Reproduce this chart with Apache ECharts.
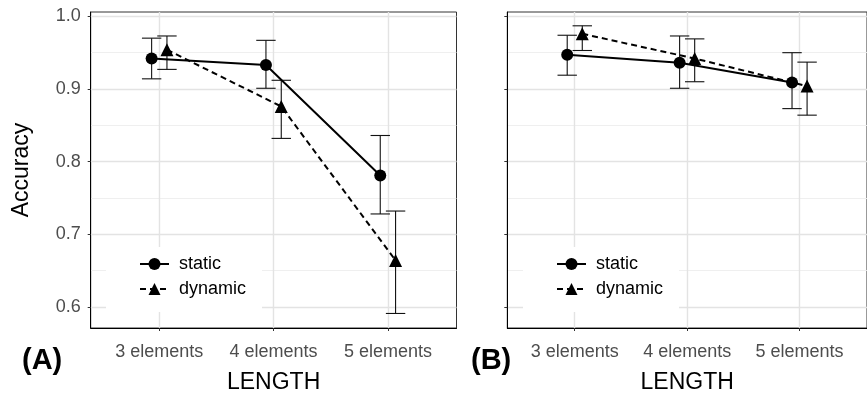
<!DOCTYPE html>
<html lang="en">
<head>
<meta charset="UTF-8">
<title>Accuracy by LENGTH</title>
<script src="https://cdn.jsdelivr.net/npm/echarts@6/dist/echarts.min.js"></script>
<style>
  html, body { margin: 0; padding: 0; background: #fff; }
  #chart { width: 867px; height: 399px; }
</style>
</head>
<body>
<div id="chart"></div>
<script>
// categories on the x axis (placed at 1, 2, 3)
var categories = ['3 elements', '4 elements', '5 elements'];
var yMajorTicks = [0.6, 0.7, 0.8, 0.9, 1.0];
var yMinorTicks = [0.65, 0.75, 0.85, 0.95];

// panel A
var staticMeanA  = [0.942, 0.933, 0.781];
var staticLowA   = [0.914, 0.901, 0.728];
var staticHighA  = [0.970, 0.967, 0.836];
var dynamicMeanA = [0.954, 0.876, 0.664];
var dynamicLowA  = [0.927, 0.832, 0.591];
var dynamicHighA = [0.973, 0.912, 0.732];

// panel B
var staticMeanB  = [0.947, 0.936, 0.909];
var staticLowB   = [0.919, 0.901, 0.873];
var staticHighB  = [0.974, 0.973, 0.950];
var dynamicMeanB = [0.976, 0.942, 0.904];
var dynamicLowB  = [0.953, 0.910, 0.864];
var dynamicHighB = [0.987, 0.969, 0.937];

var DODGE = 0.067;
var FONT = '"Liberation Sans", Arial, Helvetica, sans-serif';

function points(mean, shift) {
    return mean.map(function (v, i) { return [i + 1 + shift, v]; });
}
function bars(low, high, shift) {
    return low.map(function (v, i) { return [i + 1 + shift, v, high[i]]; });
}

// error bar with caps
function errorBar(params, api) {
    var x = api.value(0);
    var lo = api.coord([x, api.value(1)]);
    var hi = api.coord([x, api.value(2)]);
    var half = 9.7;
    var st = { stroke: '#111', lineWidth: 1.1 };
    return {
        type: 'group',
        children: [
            { type: 'line', shape: { x1: lo[0], y1: lo[1], x2: hi[0], y2: hi[1] }, style: st },
            { type: 'line', shape: { x1: lo[0] - half, y1: lo[1], x2: lo[0] + half, y2: lo[1] }, style: st },
            { type: 'line', shape: { x1: hi[0] - half, y1: hi[1], x2: hi[0] + half, y2: hi[1] }, style: st }
        ]
    };
}

function xAxisFor(gridIndex) {
    return {
        type: 'value', gridIndex: gridIndex, min: 0.4, max: 3.6,
        name: 'LENGTH', nameLocation: 'middle', nameGap: 43,
        nameTextStyle: { fontFamily: FONT, fontSize: 23, color: '#000' },
        axisLine: { show: true, onZero: false, lineStyle: { color: '#000', width: 1 } },
        axisTick: { show: true, length: 3, customValues: [1, 2, 3], lineStyle: { color: '#333' } },
        axisLabel: {
            customValues: [1, 2, 3], margin: 15,
            fontFamily: FONT, fontSize: 18, color: '#4d4d4d',
            formatter: function (v) { return categories[Math.round(v) - 1]; }
        },
        splitLine: { show: true, lineStyle: { color: '#e3e3e3', width: 1.4 } }
    };
}

function yAxisMajor(gridIndex, withLabels) {
    var ax = {
        type: 'value', gridIndex: gridIndex, min: 0.571, max: 1.006,
        axisLine: { show: true, onZero: false, lineStyle: { color: '#000', width: 1 } },
        axisTick: { show: true, length: 3, customValues: yMajorTicks, lineStyle: { color: '#333' } },
        axisLabel: {
            show: withLabels, customValues: yMajorTicks, margin: 10,
            fontFamily: FONT, fontSize: 18, color: '#4d4d4d',
            formatter: function (v) { return v.toFixed(1); }
        },
        splitLine: { show: true, lineStyle: { color: '#e3e3e3', width: 1.4 } }
    };
    if (withLabels) {
        ax.name = 'Accuracy';
        ax.nameLocation = 'middle';
        ax.nameGap = 58;
        ax.nameTextStyle = { fontFamily: FONT, fontSize: 23, color: '#000' };
    }
    return ax;
}

function yAxisMinor(gridIndex) {
    return {
        type: 'value', gridIndex: gridIndex, min: 0.571, max: 1.006,
        axisLine: { show: false },
        axisTick: { show: false, customValues: yMinorTicks },
        axisLabel: { show: false, customValues: yMinorTicks },
        splitLine: { show: true, lineStyle: { color: '#ededed', width: 0.9 } }
    };
}

function legendFor(left) {
    return {
        orient: 'vertical', left: left, top: 247,
        padding: [8, 16, 14, 33], itemGap: 7,
        itemWidth: 29, itemHeight: 15,
        backgroundColor: '#fff',
        textStyle: { fontFamily: FONT, fontSize: 18, color: '#000', padding: [0, 0, 0, 5] },
        data: ['static', 'dynamic']
    };
}

function panelSeries(xi, yi, sMean, sLow, sHigh, dMean, dLow, dHigh) {
    return [
        { name: 'static bars', type: 'custom', xAxisIndex: xi, yAxisIndex: yi, z: 2,
          renderItem: errorBar, encode: { x: 0, y: [1, 2] }, data: bars(sLow, sHigh, -DODGE) },
        { name: 'dynamic bars', type: 'custom', xAxisIndex: xi, yAxisIndex: yi, z: 2,
          renderItem: errorBar, encode: { x: 0, y: [1, 2] }, data: bars(dLow, dHigh, DODGE) },
        { name: 'static', type: 'line', xAxisIndex: xi, yAxisIndex: yi, z: 3,
          data: points(sMean, -DODGE), symbol: 'circle', symbolSize: 12,
          itemStyle: { color: '#000' }, lineStyle: { color: '#000', width: 2, type: 'solid' } },
        { name: 'dynamic', type: 'line', xAxisIndex: xi, yAxisIndex: yi, z: 3,
          data: points(dMean, DODGE), symbol: 'triangle', symbolSize: 13,
          itemStyle: { color: '#000' }, lineStyle: { color: '#000', width: 2, type: [6, 4] } }
    ];
}

var chart = echarts.init(document.getElementById('chart'), null, { renderer: 'canvas' });
chart.setOption({
    animation: false,
    backgroundColor: '#fff',
    grid: [
        { left: 90.7, top: 12, width: 365.8, height: 322, show: true, borderColor: '#333', borderWidth: 1 },
        { left: 507.3, top: 12, width: 367, height: 322, show: true, borderColor: '#333', borderWidth: 1 }
    ],
    xAxis: [xAxisFor(0), xAxisFor(1)],
    yAxis: [yAxisMajor(0, true), yAxisMinor(0), yAxisMajor(1, false), yAxisMinor(1)],
    legend: [legendFor(106), legendFor(523)],
    graphic: [
        { type: 'text', left: 22, top: 346, style: { text: '(A)', font: 'bold 29px ' + FONT, fill: '#000' } },
        { type: 'text', left: 471, top: 346, style: { text: '(B)', font: 'bold 29px ' + FONT, fill: '#000' } }
    ],
    series: [].concat(
        panelSeries(0, 0, staticMeanA, staticLowA, staticHighA, dynamicMeanA, dynamicLowA, dynamicHighA),
        panelSeries(1, 2, staticMeanB, staticLowB, staticHighB, dynamicMeanB, dynamicLowB, dynamicHighB)
    )
});
</script>
</body>
</html>
